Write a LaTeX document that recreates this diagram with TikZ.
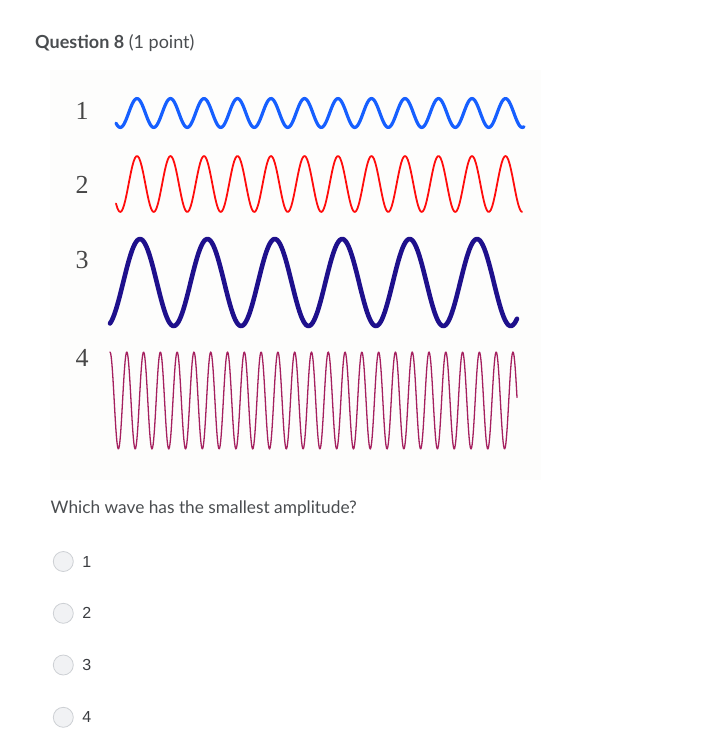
\documentclass[tikz,border=0pt]{standalone}
\usepackage{fontspec}
\usepackage{xcolor}
\setmainfont{Lato}
\newfontfamily\serifnum{Liberation Serif}
\newfontfamily\optfont{Liberation Sans}
\usetikzlibrary{positioning}
\definecolor{textgray}{HTML}{4A4D50}
\definecolor{numgray}{HTML}{474747}
\definecolor{optgray}{HTML}{3A3C40}
\definecolor{imgback}{HTML}{FDFDFC}
\definecolor{radiofill}{HTML}{F1F2F4}
\definecolor{radioedge}{HTML}{CDD0D4}
\definecolor{wblue}{RGB}{22,95,255}
\definecolor{wred}{RGB}{255,12,12}
\definecolor{wnavy}{RGB}{30,16,140}
\definecolor{wmaroon}{RGB}{165,32,95}
\tikzstyle{wave} = [line cap=round, line join=round]
\tikzstyle{wavenum} = [text=numgray, inner sep=0pt, font=\serifnum\fontsize{26}{26}\selectfont]
\tikzstyle{radio} = [circle, draw=radioedge, fill=radiofill, line width=0.8pt, minimum size=20pt, inner sep=0pt]
\tikzstyle{optlabel} = [text=optgray, inner sep=0pt, font=\optfont\fontsize{16}{16}\selectfont]

\begin{document}
\begin{tikzpicture}[x=1pt, y=-1pt]
		\useasboundingbox (0,0) rectangle (703,744);

		% Heading
		\node[anchor=base west, inner sep=0pt, text=textgray, font=\fontsize{18}{20}\selectfont] (head) at (35,48.5) {\textbf{Question 8} (1 point)};

		% Picture background
		\fill[imgback] (50,70) rectangle (541,480);

		% Wave 1
		\draw[wave, wblue, line width=3.2pt] plot[domain=116:524, samples=300] (\x, {113-14.5*cos(10.746*(\x-137))});
		\node[wavenum] (n1) at (82,111) {1};

		% Wave 2
		\draw[wave, wred, line width=1.8pt] plot[domain=116:522, samples=300] (\x, {184-28*cos(10.746*(\x-137))});
		\node[wavenum] (n2) at (82,185) {2};

		% Wave 3
		\draw[wave, wnavy, line width=4.6pt] plot[domain=110:517, samples=300] (\x, {282.5-43.5*cos(5.341*(\x-140))});
		\node[wavenum] (n3) at (82,260) {3};

		% Wave 4
		\draw[wave, wmaroon, line width=1.3pt] plot[domain=110:517, samples=700] (\x, {400.5-48.5*cos(21.441*(\x-110))});
		\node[wavenum] (n4) at (82,358) {4};

		% Question text
		\node[anchor=base west, inner sep=0pt, text=textgray, font=\fontsize{17.3}{19}\selectfont] (ask) at (50.5,513) {Which wave has the smallest amplitude?};

		% Answer options
		\foreach \i/\yy in {1/561.5, 2/613.3, 3/665, 4/717.3} {
			\node[radio] (r\i) at (63.3,\yy) {};
			\node[optlabel, right=8.5pt of r\i] (o\i) {\i};
		}
\end{tikzpicture}
\end{document}
